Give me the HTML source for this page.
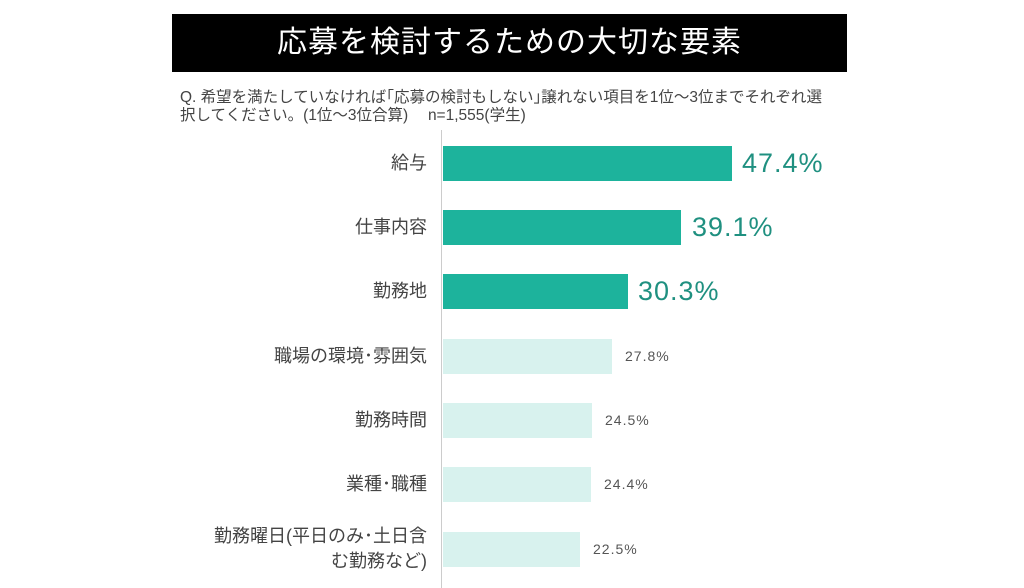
<!DOCTYPE html>
<html><head><meta charset="utf-8"><style>
body{margin:0;width:1024px;height:588px;background:#fff;position:relative;overflow:hidden;font-family:"Liberation Sans","Noto Sans CJK JP",sans-serif;}
.t{position:absolute;left:172px;top:14px;width:675px;height:58px;background:#000;color:#fff;font-size:30px;line-height:58px;text-align:center;letter-spacing:1px}
.q{position:absolute;left:180px;top:89px;font-size:15.5px;line-height:18px;color:#444;width:680px;white-space:nowrap}
.ax{position:absolute;left:441px;top:130px;width:1px;height:458px;background:#ccc}
.b{position:absolute;left:443px;height:35px}
.d{background:#1db39c}.l{background:#d8f2ee}
.lab{position:absolute;right:597px;font-size:18px;color:#444;text-align:right;line-height:24px;white-space:nowrap}
.v{position:absolute;color:#1f9080;font-size:27px;line-height:35px;letter-spacing:1px}
.s{position:absolute;color:#555;font-size:14px;line-height:35px;letter-spacing:1px}
</style></head><body>
<div class="t">応募を検討するための大切な要素</div>
<div class="q">Q. 希望を満たしていなければ｢応募の検討もしない｣譲れない項目を1位～3位までそれぞれ選<br>択してください。(1位～3位合算)　 n=1,555(学生)</div>
<div class="ax"></div>
<div class="b d" style="top:146px;width:289px"></div><div class="lab" style="top:151px">給与</div><div class="v" style="left:742px;top:146px">47.4%</div>
<div class="b d" style="top:210px;width:238px"></div><div class="lab" style="top:215px">仕事内容</div><div class="v" style="left:692px;top:210px">39.1%</div>
<div class="b d" style="top:274px;width:185px"></div><div class="lab" style="top:279px">勤務地</div><div class="v" style="left:638px;top:274px">30.3%</div>
<div class="b l" style="top:339px;width:169px"></div><div class="lab" style="top:344px">職場の環境･雰囲気</div><div class="s" style="left:625px;top:339px">27.8%</div>
<div class="b l" style="top:403px;width:149px"></div><div class="lab" style="top:408px">勤務時間</div><div class="s" style="left:605px;top:403px">24.5%</div>
<div class="b l" style="top:467px;width:148px"></div><div class="lab" style="top:472px">業種･職種</div><div class="s" style="left:604px;top:467px">24.4%</div>
<div class="b l" style="top:532px;width:137px"></div><div class="lab" style="top:524px;line-height:25px">勤務曜日(平日のみ･土日含<br>む勤務など)</div><div class="s" style="left:593px;top:532px">22.5%</div>
</body></html>
